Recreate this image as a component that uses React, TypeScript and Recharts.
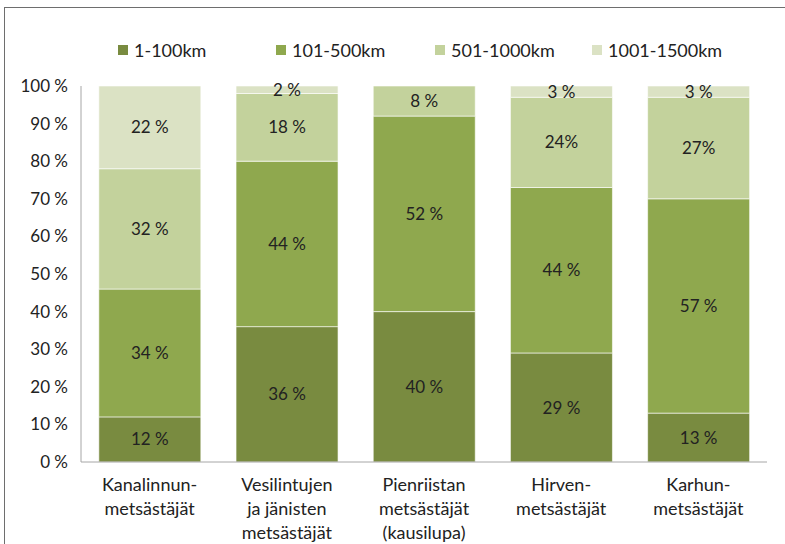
import { BarChart, Bar, XAxis, YAxis, LabelList } from "recharts"

const categoryLines = [
  ["Kanalinnun-", "metsästäjät"],
  ["Vesilintujen", "ja jänisten", "metsästäjät"],
  ["Pienriistan", "metsästäjät", "(kausilupa)"],
  ["Hirven-", "metsästäjät"],
  ["Karhun-", "metsästäjät"],
]

const km1to100 = [12, 36, 40, 29, 13]
const km101to500 = [34, 44, 52, 44, 57]
const km501to1000 = [32, 18, 8, 24, 27]
const km1001to1500 = [22, 2, 0, 3, 3]

// label texts as printed in the source (two of them lack the space)
const labels501to1000 = ["32 %", "18 %", "8 %", "24%", "27%"]

const yTicks = [0, 10, 20, 30, 40, 50, 60, 70, 80, 90, 100]

const series = [
  { key: "a", name: "1-100km", color: "#798b40" },
  { key: "b", name: "101-500km", color: "#8fa84e" },
  { key: "c", name: "501-1000km", color: "#c3d29c" },
  { key: "d", name: "1001-1500km", color: "#dbe2c4" },
]

const legendX = [118, 276, 435, 592]

const fmt = (v: number) => (v > 0 ? `${v} %` : "")

const data = categoryLines.map((lines, i) => ({
  idx: i,
  a: km1to100[i],
  b: km101to500[i],
  c: km501to1000[i],
  d: km1001to1500[i],
  la: fmt(km1to100[i]),
  lb: fmt(km101to500[i]),
  lc: km501to1000[i] > 0 ? labels501to1000[i] : "",
  ld: fmt(km1001to1500[i]),
}))

const FONT = "Lato, 'Open Sans', sans-serif"
const TEXT = "#222222"

function CategoryTick(props: any) {
  const { x, y, payload } = props
  const lines = categoryLines[payload.value] || []
  return (
    <g transform={`translate(${x},${y})`}>
      {lines.map((line, i) => (
        <text
          key={i}
          x={0}
          y={14 + i * 24}
          textAnchor="middle"
          dominantBaseline="central"
          fill={TEXT}
          fontSize={18}
          fontFamily={FONT}
        >
          {line}
        </text>
      ))}
    </g>
  )
}

export default function App() {
  return (
    <div
      style={{
        position: "absolute",
        left: 0,
        top: 0,
        width: 785,
        height: 544,
        overflow: "hidden",
        background: "#fff",
        fontFamily: FONT,
      }}
    >
      <div
        style={{
          position: "absolute",
          left: 4,
          top: 7,
          width: 820,
          height: 600,
          border: "1.5px solid #6e6e6e",
        }}
      />
      <div style={{ position: "absolute", left: 0, top: 0 }}>
        <BarChart
          width={785}
          height={544}
          data={data}
          margin={{ top: 86, right: 18, left: 0, bottom: 10 }}
          barCategoryGap="13%"
        >
          <XAxis
            dataKey="idx"
            axisLine={{ stroke: "#a6a6a6" }}
            tickLine={false}
            tick={<CategoryTick />}
            height={72}
            interval={0}
          />
          <YAxis
            width={81}
            domain={[0, 100]}
            ticks={yTicks}
            tickFormatter={(v: number) => `${v} %`}
            axisLine={{ stroke: "#a6a6a6" }}
            tickLine={false}
            tickMargin={7}
            tick={{ fill: TEXT, fontSize: 17, fontFamily: FONT }}
          />
          {series.map((s) => (
            <Bar
              key={s.key}
              dataKey={s.key}
              name={s.name}
              stackId="km"
              fill={s.color}
              stroke="#ffffff"
              strokeWidth={0.6}
              isAnimationActive={false}
            >
              <LabelList
                dataKey={"l" + s.key}
                position="center"
                fill={TEXT}
                fontSize={17}
                fontFamily={FONT}
              />
            </Bar>
          ))}
        </BarChart>
      </div>
      {series.map((s, i) => (
        <div
          key={s.key}
          style={{
            position: "absolute",
            left: legendX[i],
            top: 40,
            height: 20,
            display: "flex",
            alignItems: "center",
            whiteSpace: "nowrap",
            fontSize: 18,
            color: TEXT,
          }}
        >
          <span
            style={{
              display: "inline-block",
              width: 10,
              height: 10,
              background: s.color,
              marginRight: 6,
            }}
          />
          <span>{s.name}</span>
        </div>
      ))}
    </div>
  )
}
